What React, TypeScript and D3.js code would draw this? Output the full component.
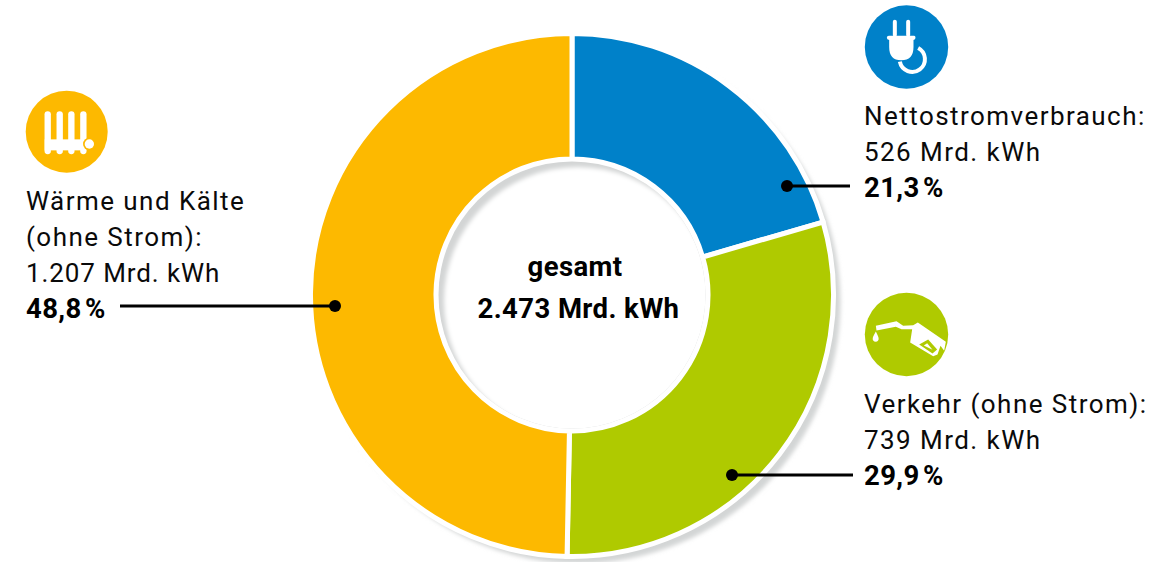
import * as d3 from 'd3';

const categories = ['Nettostromverbrauch', 'Verkehr', 'Wärme'];
const values = [526, 739, 1207];
// slice sizes as drawn in the picture, they differ a little from the printed shares
const drawnShares = [20.5, 29.8, 49.7];
const colors = ['#0081c9', '#afca00', '#fdb900'];
const shares = ['21,3\u200a%', '29,9\u200a%', '48,8\u200a%'];

const W = 1173;
const H = 562;
const cx = 572;
const cy = 295;
const outerR = 261.5;
const innerR = 136;
const FONT = 'Roboto, sans-serif';
const textStyle = { fontFamily: FONT, fontSize: 26, letterSpacing: 1.45, fill: '#0a0a0a' };
const boldStyle = { fontFamily: FONT, fontSize: 27.5, fontWeight: 700, letterSpacing: 0.4, fill: '#000' };

function PlugIcon() {
  return (
    <g fill="#fff" transform="translate(906.5,47) scale(0.3333) translate(-170,-140)">
      <rect x={129} y={58} width={12} height={52} rx={6} />
      <rect x={169} y={58} width={12} height={52} rx={6} />
      <path d="M117,106 H193 Q197,106 197,112 Q197,118 191,119 V140 Q191,180 154,180 Q118,180 118,140 V119 Q111,118 111,112 Q111,106 117,106 Z" />
      <path d="M205,143 A38,38 0 1 1 150,184" fill="none" stroke="#fff" strokeWidth={12} />
    </g>
  );
}

function NozzleIcon() {
  return (
    <g transform="translate(906.5,334.5) scale(0.3333) translate(-170,-148)">
      <path
        fill="#fff"
        d="M78,122 L140,108 L160,122 L190,120 L204,112 L288,170 L283,197 L272,182 L263,208 L250,213 L181,172 L187,132 L155,132 L138,125 L80,136 Z"
      />
      <path fill="#afca00" d="M208,178 L235,163 L262,193 L248,205 Z" />
      <path fill="#fff" d="M232,174 L248,194 L222,181 Z" />
      <path fill="#fff" d="M78,139 Q86,155 86,158 A9,9 0 1 1 69,158 Q69,155 78,139 Z" />
    </g>
  );
}

function RadiatorIcon() {
  const fins = [113, 149, 184, 220];
  return (
    <g transform="translate(66.7,131.7) scale(0.3333) translate(-170,-140)">
      {fins.map((x) => (
        <line key={x} x1={x} x2={x} y1={88} y2={198} stroke="#fff" strokeWidth={19} strokeLinecap="round" />
      ))}
      <rect x={104} y={163} width={125} height={33} fill="#fff" />
      <circle cx={238} cy={177} r={19} fill="#fdb900" />
      <circle cx={238} cy={177} r={14} fill="#fff" />
    </g>
  );
}

export default function App() {
  const pie = d3.pie<number>().sort(null).value((d) => d);
  const arc = d3.arc<d3.PieArcDatum<number>>().innerRadius(innerR).outerRadius(outerR);
  const arcs = pie(drawnShares);

  return (
    <svg width={W} height={H} style={{ position: 'absolute', left: 0, top: 0, background: '#fff' }}>
      <defs>
        <filter id="soft" x="-10%" y="-10%" width="120%" height="120%">
          <feGaussianBlur stdDeviation={2.2} />
        </filter>
        <clipPath id="hole">
          <circle cx={cx} cy={cy} r={innerR - 2.5} />
        </clipPath>
      </defs>

      {/* drop shadow behind the ring */}
      <circle cx={cx + 7} cy={cy + 7} r={outerR} fill="#d3d5d5" filter="url(#soft)" />

      <g transform={`translate(${cx},${cy})`}>
        <circle r={outerR + 1.5} fill="#fff" />
        {arcs.map((d, i) => (
          <path key={categories[i]} d={arc(d) ?? ''} fill={colors[i]} stroke="#fff" strokeWidth={5} />
        ))}
        <circle r={innerR + 1} fill="#fff" />
      </g>

      {/* inset shadow inside the hole */}
      <g clipPath="url(#hole)">
        <circle cx={cx} cy={cy} r={innerR} fill="#d3d5d5" />
        <circle cx={cx + 6} cy={cy + 6} r={innerR - 2} fill="#fff" filter="url(#soft)" />
      </g>

      <text x={575} y={276} textAnchor="middle" style={boldStyle}>gesamt</text>
      <text x={578.5} y={318} textAnchor="middle" style={boldStyle}>2.473 Mrd. kWh</text>

      <circle cx={906.5} cy={47} r={41.7} fill={colors[0]} />
      <PlugIcon />
      <circle cx={906.5} cy={334.5} r={41.7} fill={colors[1]} />
      <NozzleIcon />
      <circle cx={66.7} cy={131.7} r={41} fill={colors[2]} />
      <RadiatorIcon />

      <line x1={787} x2={850} y1={186} y2={186} stroke="#000" strokeWidth={3} />
      <circle cx={787} cy={186} r={6} fill="#000" />
      <line x1={732} x2={853} y1={475} y2={475} stroke="#000" strokeWidth={3} />
      <circle cx={732} cy={475} r={6} fill="#000" />
      <line x1={120} x2={335} y1={306} y2={306} stroke="#000" strokeWidth={3} />
      <circle cx={335} cy={306} r={6} fill="#000" />

      <text x={864} y={125} style={textStyle}>Nettostromverbrauch:</text>
      <text x={864} y={161} style={textStyle}>{values[0]} Mrd. kWh</text>
      <text x={864} y={197} style={boldStyle}>{shares[0]}</text>

      <text x={864} y={413} style={textStyle}>Verkehr (ohne Strom):</text>
      <text x={864} y={449} style={textStyle}>{values[1]} Mrd. kWh</text>
      <text x={864} y={485} style={boldStyle}>{shares[1]}</text>

      <text x={26} y={210} style={textStyle}>Wärme und Kälte</text>
      <text x={26} y={246} style={textStyle}>(ohne Strom):</text>
      <text x={26} y={282} style={{ ...textStyle, letterSpacing: 0.9 }}>1.207 Mrd. kWh</text>
      <text x={26} y={318} style={boldStyle}>{shares[2]}</text>
    </svg>
  );
}
